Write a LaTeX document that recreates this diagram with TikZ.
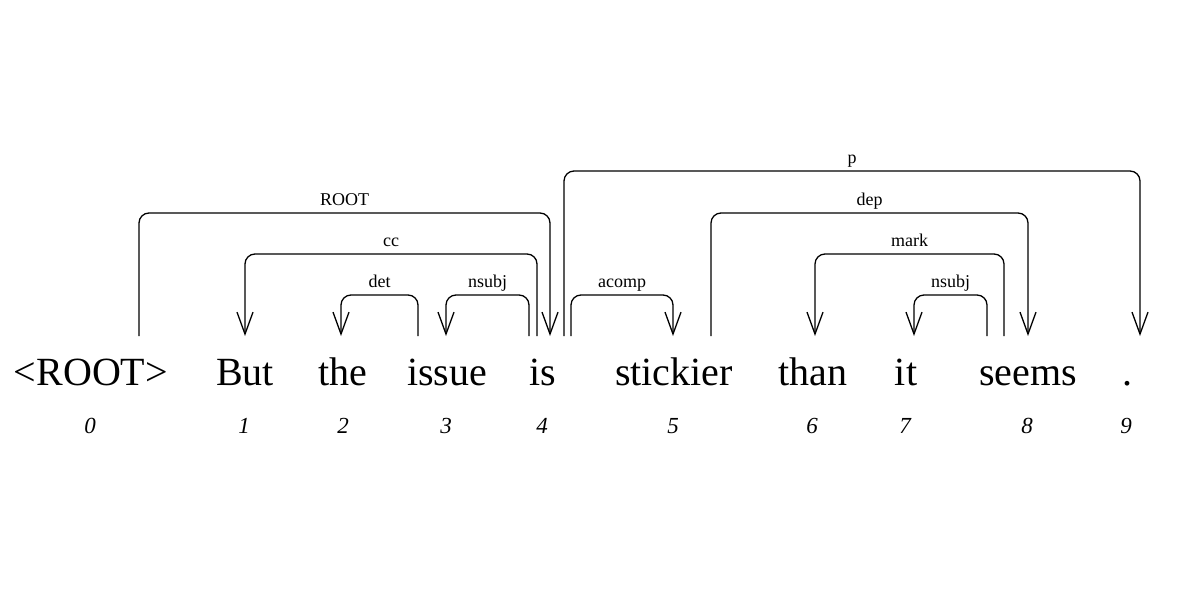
\documentclass[tikz,border=0pt]{standalone}
\usepackage{fontspec}
\setmainfont{Liberation Serif}
\usetikzlibrary{arrows.meta}
\begin{document}
\begin{tikzpicture}[x=1pt,y=-1pt,
  word/.style={font=\fontsize{40}{48}\selectfont, anchor=base, inner sep=0pt},
  idx/.style={font=\fontsize{23}{27}\selectfont\itshape, anchor=base, inner sep=0pt},
  lab/.style={font=\fontsize{18}{21}\selectfont, anchor=base, inner sep=0pt},
  arc/.style={line width=1.3pt, rounded corners=10pt, line cap=butt},
  arr/.style={arc, -{Straight Barb[length=22pt,width=16pt]}}]
\useasboundingbox (0,0) rectangle (1198,589);
\fill[white] (0,0) rectangle (1198,589);
% words
\node[word] (w0) at (91,385) {<ROOT>};
\node[word] (w1) at (245,385) {But};
\node[word] (w2) at (343,385) {the};
\node[word] (w3) at (447,385) {issue};
\node[word] (w4) at (543,385) {is};
\node[word] (w5) at (674,385) {stickier};
\node[word] (w6) at (813,385) {than};
\node[word] (w7) at (906,385) {it};
\node[word] (w8) at (1028,385) {seems};
\node[word] (w9) at (1127,385) {.};
% indices
\node[idx] (i0) at (90,433) {0};
\node[idx] (i1) at (244,433) {1};
\node[idx] (i2) at (343,433) {2};
\node[idx] (i3) at (446,433) {3};
\node[idx] (i4) at (542,433) {4};
\node[idx] (i5) at (673,433) {5};
\node[idx] (i6) at (812,433) {6};
\node[idx] (i7) at (905,433) {7};
\node[idx] (i8) at (1027,433) {8};
\node[idx] (i9) at (1126,433) {9};
% arc endpoints
\coordinate (rootS) at (139,336);  \coordinate (rootE) at (550,336);
\coordinate (ccS) at (537,336);    \coordinate (ccE) at (245,336);
\coordinate (detS) at (418,336);   \coordinate (detE) at (341,336);
\coordinate (nsA) at (529,336);    \coordinate (nsAE) at (446,336);
\coordinate (acS) at (571,336);    \coordinate (acE) at (673,336);
\coordinate (pS) at (564,336);     \coordinate (pE) at (1140,336);
\coordinate (depS) at (711,336);   \coordinate (depE) at (1028,336);
\coordinate (mkS) at (1004,336);   \coordinate (mkE) at (815,336);
\coordinate (nsB) at (987,336);    \coordinate (nsBE) at (914,336);
% arcs
\draw[arr] (rootS) -- ++(0,-123) -| node[lab,pos=0.25,yshift=8pt] (lroot) {ROOT} (rootE);
\draw[arr] (ccS) -- ++(0,-82) -| node[lab,pos=0.25,yshift=8pt] (lcc) {cc} (ccE);
\draw[arr] (detS) -- ++(0,-41) -| node[lab,pos=0.25,yshift=8pt] (ldet) {det} (detE);
\draw[arr] (nsA) -- ++(0,-41) -| node[lab,pos=0.25,yshift=8pt] (lnsa) {nsubj} (nsAE);
\draw[arr] (acS) -- ++(0,-41) -| node[lab,pos=0.25,yshift=8pt] (lac) {acomp} (acE);
\draw[arr] (pS) -- ++(0,-165) -| node[lab,pos=0.25,yshift=8pt] (lp) {p} (pE);
\draw[arr] (depS) -- ++(0,-123) -| node[lab,pos=0.25,yshift=8pt] (ldep) {dep} (depE);
\draw[arr] (mkS) -- ++(0,-82) -| node[lab,pos=0.25,yshift=8pt] (lmk) {mark} (mkE);
\draw[arr] (nsB) -- ++(0,-41) -| node[lab,pos=0.25,yshift=8pt] (lnsb) {nsubj} (nsBE);
\end{tikzpicture}
\end{document}
